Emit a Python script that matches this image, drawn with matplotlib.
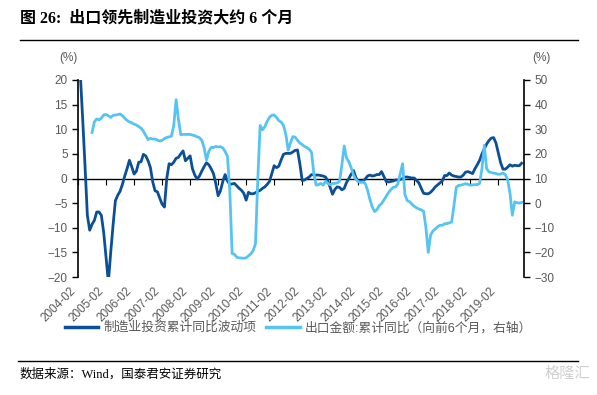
import matplotlib
matplotlib.use("Agg")
import matplotlib.pyplot as plt
from matplotlib.lines import Line2D
import numpy as np

plt.rcParams["font.family"] = ["Liberation Sans", "Noto Sans CJK SC", "DejaVu Sans"]

# monthly, starting 2004-02
invest_wave = [
    30.0, 21.0, 12.0, 2.5, -7.5, -10.5, -9.3, -8.5, -6.8, -6.8,
    -7.5, -11.0, -16.0, -21.0, -15.0, -9.5, -4.5, -3.4, -2.6, -1.2,
    0.5, 2.0, 3.7, 2.4, 0.9, 1.5, 3.3, 3.4, 4.9, 4.6,
    3.6, 2.2, -0.7, -2.5, -2.7, -4.0, -5.2, -5.8, 0.0, 3.0,
    2.8, 3.3, 4.1, 4.3, 5.0, 5.6, 3.6, 4.1, 4.6, 2.0,
    0.7, -0.1, 0.5, 1.5, 2.4, 3.2, 2.8, 2.0, 1.0, -1.0,
    -3.5, -2.5, -0.6, 0.8, -0.5, -1.2, -1.1, -1.0, -1.5, -2.0,
    -2.4, -3.0, -4.4, -2.8, -3.1, -3.1, -2.9, -2.6, -2.4, -2.0,
    -1.7, -1.2, -0.6, 1.0, 2.6, 2.2, 2.5, 3.8, 4.9, 5.1,
    5.1, 5.1, 5.4, 5.7, 5.8, 3.0, -0.4, -0.3, 0.0, 0.3,
    0.8, 0.7, 0.7, 0.7, 0.6, 0.5, 0.3, -0.5, -1.8, -3.2,
    -2.2, -1.7, -1.8, -2.3, -2.0, -0.8, 0.0, 0.9, 1.6, 0.2,
    -0.6, -0.6, -0.5, -0.1, 0.5, 0.7, 0.5, 0.6, 0.8, 0.8,
    1.4, 0.4, -0.6, -0.7, -0.6, -0.5, -0.3, -0.3, -0.2, 0.0,
    0.3, 0.3, 0.2, 0.1, 0.1, -0.4, -0.9, -2.0, -3.0, -3.1,
    -3.1, -2.8, -2.3, -1.7, -1.3, -0.9, -0.5, 0.6, 0.6, 1.1,
    0.7, 0.5, 0.4, 0.3, 0.3, 0.7, 1.3, 1.4, 1.2, 1.0,
    2.0, 2.8, 3.7, 5.0, 6.0, 7.0, 7.7, 8.2, 8.3, 7.2,
    5.2, 3.2, 1.9, 1.9, 2.3, 2.8, 2.5, 2.7, 2.6, 2.6,
    3.1,
]

# export yoy, shifted 6 months forward; first value at 2004-08
export_start = 6
export_yoy = [
    28.7, 33.0, 34.2, 33.8, 34.5, 35.8, 36.0, 35.5, 34.8, 35.6,
    35.8, 35.9, 36.2, 35.5, 34.5, 33.6, 33.0, 32.6, 32.1, 31.7,
    31.1, 30.4, 29.2, 27.5, 25.8, 26.3, 26.0, 26.0, 25.6, 25.2,
    25.5, 26.2, 26.7, 26.9, 27.2, 31.5, 42.0, 34.0, 27.8, 27.9,
    27.9, 27.9, 27.9, 27.6, 27.4, 26.9, 26.6, 25.5, 22.5, 17.5,
    21.0, 22.6, 22.6, 23.0, 22.8, 22.9, 22.4, 21.0, 19.0, 5.0,
    -20.5, -20.8, -22.0, -22.2, -22.3, -22.4, -22.2, -21.4, -20.6, -19.3,
    -16.5, 10.0, 31.5, 29.8, 31.0, 33.2, 34.8, 35.7, 35.8, 34.8,
    33.5, 32.9, 31.5, 28.0, 21.5, 24.5, 27.0, 26.8, 25.5, 24.4,
    23.8, 23.0, 22.6, 21.9, 20.6, 12.0, 7.3, 7.5, 8.0, 7.3,
    8.9, 8.0, 7.5, 8.0, 8.0, 8.2, 8.8, 15.5, 23.2, 18.3,
    16.8, 14.3, 11.4, 9.6, 8.7, 8.4, 8.6, 8.0, 5.3, 1.5,
    -1.5, -3.4, -2.7, -1.0, -0.2, 1.3, 2.8, 4.3, 5.5, 6.4,
    6.6, 7.8, 12.0, 16.0, 3.5, 1.0, 0.6, -0.5, -1.3, -1.9,
    -2.4, -2.7, -3.3, -10.0, -20.0, -13.0, -11.3, -10.5, -9.6, -9.0,
    -9.0, -8.4, -8.3, -8.0, -7.7, -1.0, 6.5, 7.2, 7.3, 7.6,
    7.9, 7.6, 7.3, 7.4, 7.5, 7.5, 8.0, 14.0, 23.5, 14.0,
    12.7, 12.4, 12.2, 12.0, 11.7, 11.8, 12.2, 11.6, 9.5, 4.0,
    -4.9, 0.5, 0.2, 0.0, 0.3,
]

year_labels = ["2004-02", "2005-02", "2006-02", "2007-02", "2008-02", "2009-02",
               "2010-02", "2011-02", "2012-02", "2013-02", "2014-02", "2015-02",
               "2016-02", "2017-02", "2018-02", "2019-02"]

left_ticks = [20, 15, 10, 5, 0, -5, -10, -15, -20]
right_ticks = [50, 40, 30, 20, 10, 0, -10, -20, -30]

dark = "#0b4f97"
light = "#55c4f2"
gray = "#595959"

fig = plt.figure(figsize=(5.97, 3.95), dpi=100)
ax = fig.add_axes([0.1307, 0.2987, 0.7470, 0.4988])
ax2 = ax.twinx()

x_inv = np.arange(len(invest_wave))
x_exp = np.arange(len(export_yoy)) + export_start
ax.plot(x_inv, invest_wave, color=dark, lw=2.0, zorder=3)
ax2.plot(x_exp, export_yoy, color=light, lw=2.0, zorder=3)

ax.set_xlim(0, 191)
ax.set_ylim(-20, 20)
ax2.set_ylim(-30, 50)
ax.set_yticks(left_ticks)
ax2.set_yticks(right_ticks)

for a in (ax, ax2):
    a.spines["top"].set_visible(False)
ax.spines["right"].set_visible(False)
ax2.spines["left"].set_visible(False)
ax2.spines["bottom"].set_visible(False)

# x axis line sits on zero, labels stay below the plot
ax.spines["bottom"].set_position(("data", 0))
ax.spines["bottom"].set_linewidth(1.0)
ax.set_xticks(np.arange(0, 192, 12))
ax.tick_params(axis="x", direction="out", length=4, width=0.8, labelbottom=False)

sec = ax.secondary_xaxis("bottom")
sec.set_xticks(np.arange(0, 192, 12)[:len(year_labels)])
sec.set_xticklabels(year_labels, rotation=45, ha="right", fontsize=8.5, color=gray)
sec.tick_params(length=0, pad=6)
sec.spines["bottom"].set_visible(False)

ax.spines["left"].set_linewidth(1.2)
ax2.spines["right"].set_linewidth(1.2)
ax.tick_params(axis="y", direction="out", length=4, width=1.0, labelsize=8.5,
               labelcolor=gray)
ax2.tick_params(axis="y", direction="out", length=4, width=1.0, labelsize=8.5,
                labelcolor=gray)

fig.text(68 / 597, 1 - 58 / 395, "(%)", fontsize=8.5, color=gray, ha="center", va="center")
fig.text(541 / 597, 1 - 58 / 395, "(%)", fontsize=8.5, color=gray, ha="center", va="center")

# title and rules
serif = ["Liberation Serif", "Noto Sans CJK SC"]
fig.text(20 / 597, 1 - 18 / 395, "图 26:  出口领先制造业投资大约 6 个月",
         fontsize=11.5, fontweight="bold", family=serif, ha="left", va="center")
fig.add_artist(Line2D([20 / 597, 578 / 597], [1 - 40 / 395] * 2, color="black", lw=1.0))
fig.add_artist(Line2D([18 / 597, 578 / 597], [1 - 361 / 395] * 2, color="black", lw=1.0))
fig.text(20 / 597, 1 - 374 / 395, "数据来源：Wind，国泰君安证券研究",
         fontsize=9, family=serif, ha="left", va="center")
fig.text(590 / 597, 1 - 374 / 395, "格隆汇", fontsize=11, color="#d0d0d0",
         ha="right", va="center")

handles = [Line2D([], [], color=dark, lw=2.5), Line2D([], [], color=light, lw=2.5)]
fig.legend(handles, ["制造业投资累计同比波动项", "出口金额:累计同比（向前6个月，右轴）"],
           loc="center", bbox_to_anchor=(0.5, 1 - 328 / 395), ncol=2, frameon=False,
           fontsize=9.2, labelcolor=gray, handlelength=2.6, columnspacing=0.8,
           handletextpad=0.4)

fig.savefig("out.png", dpi=100)
